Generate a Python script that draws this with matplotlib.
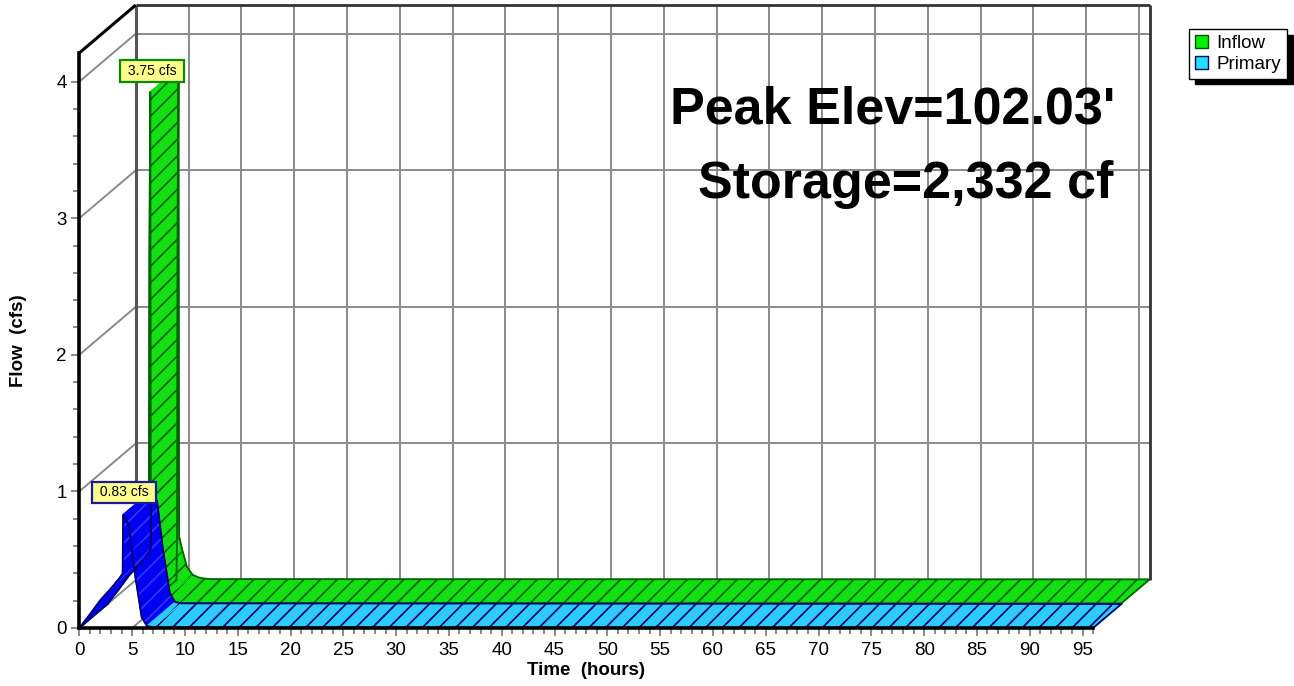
import matplotlib
matplotlib.use("Agg")
import matplotlib.pyplot as plt
from matplotlib.patches import Polygon, Patch
import numpy as np

plt.rcParams['font.family'] = ['Liberation Sans', 'DejaVu Sans']
plt.rcParams['hatch.linewidth'] = 1.25

# ---------------- data ----------------
inflow_t = [3.85, 3.90, 3.95, 4.05, 4.10, 4.40, 4.85, 5.40, 6.10, 7.00, 96.0]
inflow_q = [0.00, 0.30, 2.55, 3.75, 0.32, 0.22, 0.095, 0.037, 0.015, 0.007, 0.005]

primary_t = [0.0, 1.0, 2.0, 3.0, 3.85, 4.10, 4.15, 4.40, 4.70, 5.00, 5.25,
             5.60, 5.90, 6.40, 7.00, 96.0]
primary_q = [0.0, 0.10, 0.205, 0.29, 0.37, 0.40, 0.83, 0.80, 0.75, 0.56, 0.40,
             0.23, 0.08, 0.015, 0.005, 0.0]

series_names = ["Inflow", "Primary"]
x_major = list(range(0, 96, 5))
x_minor = list(range(0, 97, 1))
y_major = [0, 1, 2, 3, 4]
y_minor = [round(0.2 * i, 1) for i in range(0, 21)]
peak_text = ["Peak Elev=102.03'", "Storage=2,332 cf"]

# ---------------- layout ----------------
T_END = 96.0     # last hour of the time axis
Q_TOP = 4.21     # top of the flow axis
DX = 5.35        # chart depth, expressed in hours along x
DY = 0.351       # chart depth, expressed in cfs along y

GREEN = '#12e012'
GREEN_DARK = '#006400'
CYAN = '#2ecbf8'
BLUE_DARK = '#000070'
BLUE_STEEP = '#0000f0'
GRID = '#8a8a8a'

fig = plt.figure(figsize=(12.94, 6.86), dpi=100)
ax = fig.add_axes([79.3 / 1294, 58 / 686, 1070.3 / 1294, 623 / 686])
ax.set_xlim(0, T_END + DX)
ax.set_ylim(0, Q_TOP + DY)

# ---- walls and floor ----
def seg(p0, p1, color=GRID, lw=1.4, z=1):
    ax.plot([p0[0], p1[0]], [p0[1], p1[1]], color=color, lw=lw, zorder=z,
            clip_on=False, solid_capstyle='butt')

for t in x_major[1:] + [95]:
    seg((t + DX, DY), (t + DX, Q_TOP + DY))          # back wall verticals
    seg((t, 0), (t + DX, DY))                        # floor depth lines
for q in y_major:
    seg((DX, q + DY), (T_END + DX, q + DY))          # back wall horizontals
    seg((0, q), (DX, q + DY))                        # side wall diagonals

seg((DX, DY), (DX, Q_TOP + DY), color='#555555', lw=2.2)
seg((T_END + DX, DY), (T_END + DX, Q_TOP + DY), color='#333333', lw=2.0)
seg((DX, Q_TOP + DY), (T_END + DX, Q_TOP + DY), color='#333333', lw=2.0)
seg((0, Q_TOP), (DX, Q_TOP + DY), color='black', lw=2.2)

# ---- ribbons ----
def ribbon(t, q, d0, d1, face, dark, steep_face=None, steep_hatch=None, z=3):
    t = np.asarray(t, float)
    q = np.asarray(q, float)
    px = ax.transData.transform(np.column_stack([t, q]))
    for i in range(len(t) - 1):
        pts = [(t[i] + d0 * DX, q[i] + d0 * DY),
               (t[i + 1] + d0 * DX, q[i + 1] + d0 * DY),
               (t[i + 1] + d1 * DX, q[i + 1] + d1 * DY),
               (t[i] + d1 * DX, q[i] + d1 * DY)]
        dxp = px[i + 1, 0] - px[i, 0]
        dyp = px[i + 1, 1] - px[i, 1]
        steep = steep_face is not None and abs(dyp) > 0.5 * max(abs(dxp), 1e-9)
        fc = steep_face if steep else face
        hc = steep_hatch if steep else dark
        ax.add_patch(Polygon(pts, closed=True, facecolor=fc, edgecolor=hc,
                             hatch='//', lw=0, zorder=z))
        ax.add_patch(Polygon(pts, closed=True, facecolor='none',
                             edgecolor=fc, lw=0.8, zorder=z))
    front_x, front_y = t + d0 * DX, q + d0 * DY
    back_x, back_y = t + d1 * DX, q + d1 * DY
    ax.plot(front_x, front_y, color=dark, lw=1.3, zorder=z + 0.1)
    ax.plot(back_x, back_y, color=dark, lw=1.3, zorder=z + 0.1)
    for k in (0, -1):
        ax.plot([front_x[k], back_x[k]], [front_y[k], back_y[k]],
                color=dark, lw=1.3, zorder=z + 0.1)

ribbon(inflow_t, inflow_q, 0.5, 1.0, GREEN, GREEN_DARK, z=3)
ribbon(primary_t, primary_q, 0.0, 0.5, CYAN, BLUE_DARK,
       steep_face=BLUE_STEEP, steep_hatch='#3434ff', z=4)

# ---- peak labels ----
def peak_label(t, q, color, off):
    i = int(np.argmax(q))
    ax.annotate(f" {q[i]:.2f} cfs ", xy=(t[i], q[i]), xytext=off,
                textcoords='offset points', ha='center', va='center',
                fontsize=10, zorder=8,
                bbox=dict(boxstyle='square,pad=0.28', fc='#ffff8c', ec=color, lw=1.6))

peak_label(inflow_t, inflow_q, '#0a8a0a', (21.5, 32.5))
peak_label(primary_t, primary_q, '#1a1a9a', (0.5, 16.0))

# ---- axes ----
for s in ('top', 'right'):
    ax.spines[s].set_visible(False)
ax.spines['left'].set_bounds(0, Q_TOP)
ax.spines['bottom'].set_bounds(0, T_END)
for s in ('left', 'bottom'):
    ax.spines[s].set_linewidth(2.6)
    ax.spines[s].set_color('black')
    ax.spines[s].set_zorder(6)

ax.set_xticks(x_major)
ax.set_xticks(x_minor, minor=True)
ax.set_yticks(y_major)
ax.set_yticks(y_minor, minor=True)
ax.tick_params(which='both', direction='out', color='#6a6a6a', width=1.1,
               labelsize=13.5, labelcolor='black')
ax.tick_params(which='major', length=6)
ax.tick_params(which='minor', length=4)
ax.tick_params(axis='x', pad=4)
ax.tick_params(axis='y', pad=3)

ax.set_xlabel("Time  (hours)", fontsize=13.5, fontweight='bold')
ax.set_ylabel("Flow  (cfs)", fontsize=13.5, fontweight='bold')
ax.xaxis.set_label_coords((586 - 79.3) / 1070.3, -(662 - 628) / 623)
ax.yaxis.set_label_coords((27 - 79.3) / 1070.3, (628 - 340.5) / 623)

# ---- summary text ----
fig.text(1115 / 1294, 1 - 123 / 686, peak_text[0], ha='right', va='baseline',
         fontsize=37.5, fontweight='bold')
fig.text(1113 / 1294, 1 - 198 / 686, peak_text[1], ha='right', va='baseline',
         fontsize=37.5, fontweight='bold')

# ---- legend ----
handles = [Patch(facecolor='#00ee00', edgecolor='#005000', lw=1.0),
           Patch(facecolor='#1ee0ff', edgecolor='#000060', lw=1.0)]
fig.legend(handles, series_names, loc='upper right',
           bbox_to_anchor=(1287 / 1294, 1 - 29 / 686),
           bbox_transform=fig.transFigure, borderaxespad=0,
           fontsize=13.5, handlelength=0.72, handleheight=0.72,
           handletextpad=0.45, borderpad=0.3, labelspacing=0.22,
           fancybox=False, edgecolor='black', framealpha=1,
           shadow={'ox': 4, 'oy': -4, 'color': 'black', 'alpha': 1})

fig.savefig("out.png", dpi=100)
